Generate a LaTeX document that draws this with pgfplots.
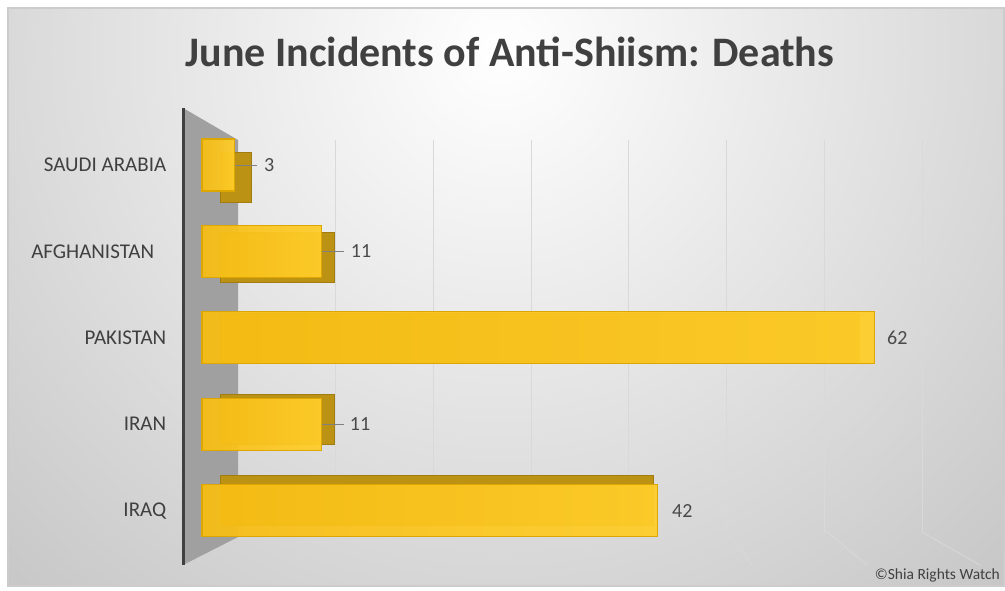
\documentclass[border=0pt]{standalone}
\usepackage{pgfplots}
\pgfplotsset{compat=1.18}
\usepackage{fontspec}
\setmainfont{Carlito}
\definecolor{goldL}{RGB}{247,189,20}
\definecolor{goldR}{RGB}{255,206,42}
\definecolor{goldedge}{RGB}{222,166,0}
\definecolor{goldside}{RGB}{188,146,20}
\definecolor{txt}{RGB}{64,64,64}
\definecolor{gridc}{RGB}{217,217,217}
\definecolor{wall}{RGB}{160,160,160}
\begin{document}
\begin{tikzpicture}[x=1pt,y=1pt]
\path (0,0) rectangle (1005,591);
\fill[white] (0,0) rectangle (1005,591);
\begin{scope}
\clip (8,5) rectangle (1004,583);
\shade[inner color=white, outer color={rgb,255:red,192;green,192;blue,192}] (500,540) circle (820);
\end{scope}
\draw[gray!40, line width=1.2] (8,5) rectangle (1004,583);
\node[font=\bfseries\fontsize{42}{48}\selectfont, text=txt] at (510,539) {June Incidents of Anti-Shiism: Deaths};
% back wall grid
\begin{axis}[at={(238pt,58pt)}, anchor=south west, scale only axis,
  width=684pt, height=393pt, xmin=0, xmax=70, ymin=0, ymax=1,
  xtick={10,20,...,70}, ytick=\empty, xticklabels={},
  xmajorgrids, major grid style={gridc, line width=0.9pt},
  axis line style={draw=none}, tick style={draw=none}]
\addplot[draw=none] coordinates {(0,0)};
\end{axis}
\draw[gridc, line width=0.8] (728,58) -- (752,26);
\draw[gridc, line width=0.8] (825,61) -- (867,26);
\draw[gridc, line width=0.8] (922,59) -- (980,26);
% side wall
\fill[wall] (183,483) -- (238,451) -- (238,54) -- (183,26) -- cycle;
\draw[line width=3, txt] (183,483) -- (183,26);
% back faces of bars
\begin{axis}[at={(220.5pt,486.5pt)}, anchor=north west, scale only axis,
  width=721.6pt, height=466.56pt, xmin=0, xmax=70, ymin=-0.7, ymax=4.7,
  y dir=reverse, xtick=\empty, ytick=\empty,
  axis line style={draw=none}, tick style={draw=none}, clip=false,
  xbar, bar width=50pt, bar shift=0pt]
\addplot[fill=goldside, draw=goldside!85!black, yshift=-12pt] coordinates {(3,0)};
\addplot[fill=goldside, draw=goldside!85!black, yshift=-6pt] coordinates {(11,1)};
\addplot[fill=goldside, draw=goldside!85!black] coordinates {(62,2)};
\addplot[fill=goldside, draw=goldside!85!black, yshift=5pt] coordinates {(11,3)};
\addplot[fill=goldside, draw=goldside!85!black, yshift=10pt] coordinates {(42,4)};
\end{axis}
% front faces
\begin{axis}[at={(202pt,486.5pt)}, anchor=north west, scale only axis,
  width=759.5pt, height=466.56pt, xmin=0, xmax=70, ymin=-0.7, ymax=4.7,
  y dir=reverse, ytick={0,...,4},
  yticklabels={SAUDI ARABIA, AFGHANISTAN\phantom{A}, PAKISTAN, IRAN, IRAQ},
  xtick=\empty, axis line style={draw=none}, tick style={draw=none}, clip=false,
  /pgf/number format/assume math mode=true,
  yticklabel style={font=\fontsize{21}{23}\selectfont, text=txt, xshift=-28pt},
  xbar, bar width=52pt, bar shift=0pt,
  every node near coord/.style={inner sep=0pt, font=\fontsize{20}{22}\selectfont, text=txt, anchor=west},
  nodes near coords align=horizontal,
  frontbar/.style={left color=goldL, right color=goldR, fill opacity=0.94, draw=goldedge, line width=1.1pt}]
\addplot[frontbar,
  nodes near coords={\textcolor{gray}{\rule[0.28em]{22pt}{1.2pt}}\hspace{7pt}\pgfmathprintnumber\pgfplotspointmeta}] coordinates {(3,0)};
\addplot[frontbar,
  nodes near coords={\textcolor{gray}{\rule[0.28em]{22pt}{1.2pt}}\hspace{7pt}\pgfmathprintnumber\pgfplotspointmeta}] coordinates {(11,1)};
\addplot[frontbar,
  nodes near coords={\hspace{12pt}\pgfmathprintnumber\pgfplotspointmeta}] coordinates {(62,2)};
\addplot[frontbar,
  nodes near coords={\textcolor{gray}{\rule[0.28em]{22pt}{1.2pt}}\hspace{6pt}\pgfmathprintnumber\pgfplotspointmeta}] coordinates {(11,3)};
\addplot[frontbar,
  nodes near coords={\hspace{14pt}\pgfmathprintnumber\pgfplotspointmeta}] coordinates {(42,4)};
\end{axis}
\node[anchor=south east, inner sep=0pt, font=\fontsize{15.5}{17}\selectfont, text=txt] at (1000,9) {©Shia Rights Watch};
\end{tikzpicture}
\end{document}
